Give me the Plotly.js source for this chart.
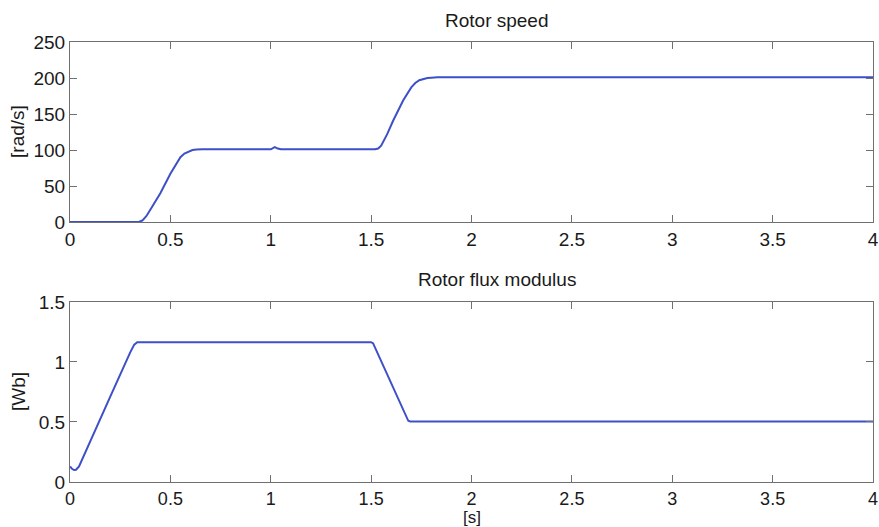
<!DOCTYPE html>
<html>
<head>
<meta charset="utf-8">
<script src="https://cdn.plot.ly/plotly-3.0.1.min.js"></script>
<style>html,body{margin:0;padding:0;background:#fff;}#chart{width:879px;height:527px;}</style>
</head>
<body>
<div id="chart"></div>
<script>
// Rotor speed [rad/s] vs time [s]
const speedTime = [0, 0.33, 0.345, 0.36, 0.38, 0.40, 0.45, 0.50, 0.53, 0.55, 0.57, 0.59, 0.61, 0.63, 0.66, 1.00, 1.01, 1.02, 1.035, 1.05, 1.52, 1.535, 1.55, 1.58, 1.61, 1.66, 1.70, 1.72, 1.74, 1.76, 1.78, 1.80, 1.83, 4];
const speedValues = [0, 0, 0.5, 2, 8, 17, 40, 67, 82, 90, 95, 98, 100, 100.8, 101, 101, 102.5, 104, 102, 101, 101, 102, 106, 122, 141, 169, 187, 193, 197, 199, 200, 200.5, 201, 201];
// Rotor flux modulus [Wb] vs time [s]
const fluxTime = [0, 0.01, 0.02, 0.03, 0.045, 0.10, 0.20, 0.30, 0.32, 0.335, 1.50, 1.51, 1.60, 1.685, 1.695, 4];
const fluxValues = [0.13, 0.11, 0.10, 0.102, 0.13, 0.34, 0.71, 1.08, 1.145, 1.165, 1.165, 1.155, 0.82, 0.51, 0.505, 0.505];
const xTicks = [0, 0.5, 1, 1.5, 2, 2.5, 3, 3.5, 4];
const xTickText = ["0", "0.5", "1", "1.5", "2", "2.5", "3", "3.5", "4"];
const speedTicks = [0, 50, 100, 150, 200, 250];
const fluxTicks = [0, 0.5, 1, 1.5];
const fluxTickText = ["0", "0.5", "1", "1.5"];

const lineColor = "#3d50c8";
const font = {family: "Liberation Sans, Arial, sans-serif", size: 19, color: "#1a1a1a"};
const smallFont = {family: font.family, size: 17, color: font.color};

const axisCommon = {
  showgrid: false, zeroline: false, showline: true, linecolor: "#707070", linewidth: 1,
  mirror: "ticks", ticks: "inside", ticklen: 7, tickwidth: 1, tickcolor: "#707070",
  tickfont: font, fixedrange: true
};

const traces = [
  {x: speedTime, y: speedValues, type: "scatter", mode: "lines", line: {color: lineColor, width: 2}, xaxis: "x", yaxis: "y", hoverinfo: "skip"},
  {x: fluxTime, y: fluxValues, type: "scatter", mode: "lines", line: {color: lineColor, width: 2}, xaxis: "x2", yaxis: "y2", hoverinfo: "skip"}
];

const layout = {
  width: 879, height: 527,
  margin: {l: 70, r: 6, t: 42, b: 45},
  paper_bgcolor: "#ffffff", plot_bgcolor: "#ffffff",
  showlegend: false,
  font: font,
  xaxis: Object.assign({}, axisCommon, {domain: [0, 1], range: [0, 4], tickvals: xTicks, ticktext: xTickText, anchor: "y"}),
  yaxis: Object.assign({}, axisCommon, {domain: [0.5909, 1], range: [0, 250], tickvals: speedTicks, anchor: "x"}),
  xaxis2: Object.assign({}, axisCommon, {domain: [0, 1], range: [0, 4], tickvals: xTicks, ticktext: xTickText, anchor: "y2", tickfont: {family: font.family, size: 18, color: font.color}}),
  yaxis2: Object.assign({}, axisCommon, {domain: [0, 0.4091], range: [0, 1.5], tickvals: fluxTicks, ticktext: fluxTickText, anchor: "x2"}),
  annotations: [
    {text: "Rotor speed", xref: "paper", yref: "paper", x: 0.532, y: 1, yshift: 22, xanchor: "center", yanchor: "middle", showarrow: false, font: font},
    {text: "Rotor flux modulus", xref: "paper", yref: "paper", x: 0.532, y: 0.4091, yshift: 22, xanchor: "center", yanchor: "middle", showarrow: false, font: font},
    {text: "[s]", xref: "paper", yref: "paper", x: 0.5, y: 0, yshift: -35, height: 17, xanchor: "center", yanchor: "middle", showarrow: false, font: smallFont},
    {text: "[rad/s]", xref: "paper", yref: "paper", x: 0, xshift: -52, y: 0.7955, xanchor: "center", yanchor: "middle", textangle: -90, showarrow: false, font: font},
    {text: "[Wb]", xref: "paper", yref: "paper", x: 0, xshift: -52, y: 0.2045, xanchor: "center", yanchor: "middle", textangle: -90, showarrow: false, font: font}
  ]
};

Plotly.newPlot("chart", traces, layout, {displayModeBar: false, staticPlot: true});
</script>
</body>
</html>
